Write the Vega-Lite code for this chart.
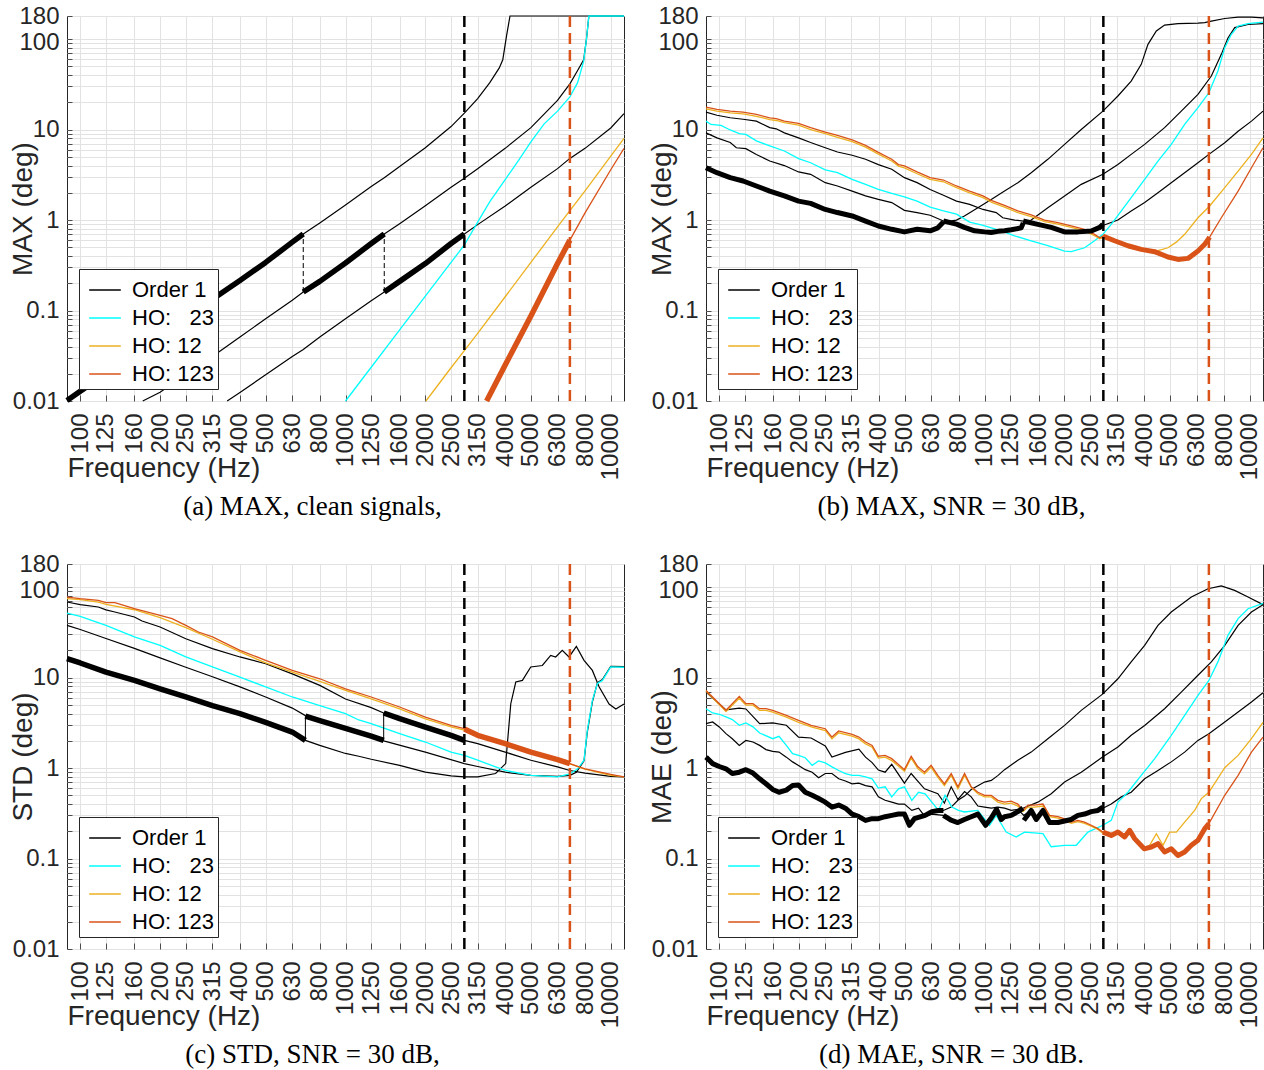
{
"$schema": "https://vega.github.io/schema/vega-lite/v6.json",
"background": "white",
"padding": {"left": 8, "top": 3, "right": 0, "bottom": 0},
"config": {
 "view": {"stroke": "#262626", "strokeWidth": 1},
 "font": "Liberation Sans",
 "title": {"font": "Liberation Serif", "fontSize": 27, "fontWeight": "normal", "color": "#000000"},
 "axis": {"labelFont": "Liberation Sans", "titleFont": "Liberation Sans", "labelColor": "#262626", "titleColor": "#262626", "labelFontSize": 24, "titleFontSize": 28, "titleFontWeight": "normal", "gridColor": "#e2e2e2", "gridWidth": 1, "domain": false, "tickColor": "#262626", "tickWidth": 0.8, "labelOverlap": false, "labelFlush": false},
 "axisX": {"labelAngle": -90, "tickSize": -6, "labelPadding": 18, "titleAnchor": "start", "titleAlign": "left", "titleX": 0, "titleY": 75, "titleBaseline": "alphabetic"},
 "axisY": {"tickSize": -5, "labelPadding": 13, "titleX": -36, "titleY": 192.5, "titleAlign": "center", "titleBaseline": "alphabetic", "titleAngle": 270, "labelOffset": {"condition": {"test": "datum.value == 100", "value": 3}, "value": 0}},
 "legend": {"orient": "bottom-left", "offset": 12, "symbolType": "stroke", "symbolSize": 1000, "symbolStrokeWidth": 1.5, "symbolOffset": 5, "labelFontSize": 22, "labelFont": "Liberation Sans", "labelColor": "#000000", "strokeColor": "#262626", "fillColor": "white", "padding": 4, "rowPadding": -4, "labelOffset": 10, "labelLimit": 300}
},
"datasets": {
 "vl": [{"f": 2806, "v": 0.01, "v2": 180, "s": "Order 1"}, {"f": 7014, "v": 0.01, "v2": 180, "s": "HO: 123"}],
 "aA": [{"f":89.13,"v":0.0101},{"f":100,"v":0.0128},{"f":125,"v":0.02},{"f":160,"v":0.033},{"f":200,"v":0.052},{"f":250,"v":0.083},{"f":315,"v":0.133},{"f":400,"v":0.215},{"f":500,"v":0.34},{"f":630,"v":0.57},{"f":693,"v":0.7},{"f":800,"v":0.93},{"f":1000,"v":1.47},{"f":1250,"v":2.35},{"f":1400,"v":2.94},{"f":1600,"v":3.9},{"f":2000,"v":6.3},{"f":2500,"v":10.8},{"f":2806,"v":15.2},{"f":3150,"v":22},{"f":3500,"v":33},{"f":3800,"v":48},{"f":3917,"v":59},{"f":4050,"v":110},{"f":4170,"v":180},{"f":11220,"v":180}],
 "aB": [{"f":172,"v":0.01},{"f":200,"v":0.0125},{"f":250,"v":0.0197},{"f":315,"v":0.031},{"f":400,"v":0.051},{"f":500,"v":0.081},{"f":630,"v":0.13},{"f":693,"v":0.16},{"f":800,"v":0.21},{"f":1000,"v":0.335},{"f":1250,"v":0.55},{"f":1400,"v":0.7},{"f":1600,"v":0.91},{"f":2000,"v":1.44},{"f":2500,"v":2.3},{"f":2806,"v":2.9},{"f":3150,"v":3.7},{"f":4000,"v":6.2},{"f":5000,"v":10.5},{"f":6300,"v":21},{"f":7014,"v":32},{"f":7500,"v":45},{"f":7906,"v":59},{"f":8100,"v":100},{"f":8270,"v":180},{"f":11220,"v":180}],
 "aC": [{"f":358,"v":0.01},{"f":400,"v":0.0124},{"f":500,"v":0.0195},{"f":630,"v":0.031},{"f":693,"v":0.037},{"f":800,"v":0.051},{"f":1000,"v":0.081},{"f":1250,"v":0.128},{"f":1400,"v":0.16},{"f":1600,"v":0.21},{"f":2000,"v":0.33},{"f":2500,"v":0.55},{"f":2806,"v":0.7},{"f":3150,"v":0.89},{"f":4000,"v":1.43},{"f":5000,"v":2.3},{"f":6300,"v":3.7},{"f":7014,"v":4.8},{"f":8000,"v":6.2},{"f":10000,"v":10.4},{"f":11220,"v":15}],
 "aH23": [{"f":1000,"v":0.01},{"f":1250,"v":0.0236},{"f":1600,"v":0.061},{"f":2000,"v":0.144},{"f":2500,"v":0.34},{"f":2806,"v":0.53},{"f":3150,"v":0.95},{"f":3500,"v":1.6},{"f":4000,"v":2.8},{"f":4500,"v":4.6},{"f":5000,"v":7.3},{"f":5600,"v":11.5},{"f":6300,"v":16},{"f":7014,"v":23},{"f":7500,"v":33},{"f":7906,"v":57},{"f":8100,"v":100},{"f":8270,"v":180},{"f":11220,"v":180}],
 "aH12": [{"f":2010,"v":0.01},{"f":2500,"v":0.0233},{"f":2806,"v":0.036},{"f":3150,"v":0.056},{"f":4000,"v":0.142},{"f":5000,"v":0.34},{"f":6300,"v":0.84},{"f":7014,"v":1.27},{"f":8000,"v":2.1},{"f":10000,"v":5.1},{"f":11220,"v":8.0}],
 "aH123": [{"f":3404,"v":0.01},{"f":4000,"v":0.025},{"f":5000,"v":0.087},{"f":6300,"v":0.33},{"f":7014,"v":0.6},{"f":8000,"v":1.2},{"f":10000,"v":3.6},{"f":11220,"v":6.2}],
 "aT1": [{"f":89.13,"v":0.0101},{"f":100,"v":0.0128},{"f":125,"v":0.02},{"f":160,"v":0.033},{"f":200,"v":0.052},{"f":250,"v":0.083},{"f":315,"v":0.133},{"f":400,"v":0.215},{"f":500,"v":0.34},{"f":630,"v":0.57},{"f":693,"v":0.7}],
 "aT2": [{"f":693,"v":0.16},{"f":800,"v":0.21},{"f":1000,"v":0.335},{"f":1250,"v":0.55},{"f":1400,"v":0.7}],
 "aT3": [{"f":1400,"v":0.16},{"f":1600,"v":0.21},{"f":2000,"v":0.33},{"f":2500,"v":0.55},{"f":2806,"v":0.7}],
 "aTr": [{"f":3404,"v":0.01},{"f":4000,"v":0.025},{"f":5000,"v":0.087},{"f":6300,"v":0.33},{"f":7014,"v":0.6}],
 "aConn": [{"f":693,"v":0.16,"v2":0.7},{"f":1400,"v":0.16,"v2":0.7}],
 "bA": [{"f":89.13,"v":3.79},{"f":98,"v":3.34},{"f":110,"v":2.94},{"f":123,"v":2.7},{"f":138,"v":2.38},{"f":155,"v":2.09},{"f":176,"v":1.85},{"f":199,"v":1.62},{"f":221,"v":1.53},{"f":251,"v":1.31},{"f":279,"v":1.21},{"f":317,"v":1.11},{"f":356,"v":0.975},{"f":398,"v":0.86},{"f":447,"v":0.79},{"f":499,"v":0.74},{"f":557,"v":0.79},{"f":624,"v":0.76},{"f":667,"v":0.82},{"f":700,"v":0.95},{"f":784,"v":1.0},{"f":840,"v":1.11},{"f":944,"v":1.37},{"f":1060,"v":1.69},{"f":1190,"v":2.09},{"f":1336,"v":2.59},{"f":1500,"v":3.34},{"f":1733,"v":4.69},{"f":2004,"v":6.86},{"f":2316,"v":10.0},{"f":2795,"v":16.0},{"f":3184,"v":23.5},{"f":3573,"v":34.4},{"f":3899,"v":52.6},{"f":4133,"v":87.5},{"f":4445,"v":123},{"f":4775,"v":143},{"f":5363,"v":148},{"f":6380,"v":150},{"f":6764,"v":152},{"f":7165,"v":158},{"f":8050,"v":169},{"f":9040,"v":175},{"f":10150,"v":175},{"f":11220,"v":172}],
 "bB": [{"f":89.13,"v":9.2},{"f":98,"v":8.1},{"f":110,"v":7.2},{"f":116,"v":6.3},{"f":126,"v":6.15},{"f":138,"v":5.3},{"f":155,"v":4.5},{"f":176,"v":4.0},{"f":199,"v":3.4},{"f":221,"v":3.2},{"f":251,"v":2.59},{"f":279,"v":2.38},{"f":317,"v":2.09},{"f":356,"v":1.85},{"f":398,"v":1.69},{"f":447,"v":1.56},{"f":499,"v":1.28},{"f":557,"v":1.21},{"f":624,"v":1.13},{"f":700,"v":0.975},{"f":784,"v":0.9},{"f":840,"v":0.83},{"f":917,"v":0.76},{"f":1000,"v":0.74},{"f":1060,"v":0.73},{"f":1123,"v":0.75},{"f":1190,"v":0.76},{"f":1261,"v":0.78},{"f":1375,"v":0.82},{"f":1400,"v":0.93},{"f":1500,"v":1.0},{"f":1733,"v":1.37},{"f":2004,"v":1.84},{"f":2316,"v":2.48},{"f":2795,"v":3.2},{"f":3184,"v":4.12},{"f":3573,"v":5.32},{"f":4016,"v":6.86},{"f":4775,"v":10.5},{"f":5520,"v":16.0},{"f":6380,"v":24.5},{"f":7165,"v":39.1},{"f":7813,"v":67.8},{"f":8277,"v":103},{"f":8777,"v":134},{"f":9854,"v":145},{"f":11220,"v":148}],
 "bC": [{"f":89.13,"v":15.6},{"f":98,"v":14.4},{"f":110,"v":13.5},{"f":123,"v":13.0},{"f":138,"v":12.4},{"f":155,"v":10.5},{"f":164,"v":10.2},{"f":176,"v":9.2},{"f":199,"v":8.1},{"f":221,"v":7.2},{"f":251,"v":6.3},{"f":279,"v":5.65},{"f":317,"v":5.2},{"f":356,"v":4.7},{"f":398,"v":4.1},{"f":447,"v":3.64},{"f":499,"v":2.94},{"f":557,"v":2.59},{"f":624,"v":2.18},{"f":700,"v":1.88},{"f":784,"v":1.62},{"f":879,"v":1.49},{"f":987,"v":1.31},{"f":1107,"v":1.21},{"f":1172,"v":1.06},{"f":1300,"v":1.0},{"f":1400,"v":0.975},{"f":1589,"v":0.896},{"f":1785,"v":0.83},{"f":2004,"v":0.74},{"f":2249,"v":0.74},{"f":2526,"v":0.757},{"f":2720,"v":0.83},{"f":2795,"v":0.87},{"f":3184,"v":1.0},{"f":3573,"v":1.26},{"f":4016,"v":1.56},{"f":4508,"v":2.0},{"f":5060,"v":2.59},{"f":5683,"v":3.34},{"f":6380,"v":4.3},{"f":7015,"v":5.32},{"f":8050,"v":7.16},{"f":9040,"v":9.6},{"f":10150,"v":12.4},{"f":11220,"v":16.0}],
 "bH23": [{"f":89.13,"v":12.4},{"f":93,"v":11.4},{"f":101.5,"v":11.1},{"f":110,"v":9.9},{"f":119,"v":9.0},{"f":126,"v":8.85},{"f":138,"v":7.5},{"f":155,"v":6.6},{"f":176,"v":5.8},{"f":199,"v":4.77},{"f":221,"v":4.3},{"f":251,"v":3.58},{"f":279,"v":3.34},{"f":317,"v":2.82},{"f":356,"v":2.48},{"f":398,"v":2.18},{"f":447,"v":1.97},{"f":499,"v":1.8},{"f":557,"v":1.62},{"f":624,"v":1.39},{"f":700,"v":1.26},{"f":784,"v":1.16},{"f":879,"v":0.95},{"f":980,"v":0.88},{"f":1107,"v":0.79},{"f":1200,"v":0.73},{"f":1298,"v":0.67},{"f":1500,"v":0.59},{"f":1733,"v":0.52},{"f":2004,"v":0.454},{"f":2123,"v":0.447},{"f":2384,"v":0.494},{"f":2600,"v":0.59},{"f":2795,"v":0.695},{"f":3005,"v":0.896},{"f":3280,"v":1.26},{"f":3573,"v":1.77},{"f":4016,"v":2.82},{"f":4508,"v":4.49},{"f":5060,"v":6.86},{"f":5683,"v":11.4},{"f":6380,"v":17.5},{"f":7015,"v":25.5},{"f":7586,"v":44.4},{"f":8050,"v":80.4},{"f":8525,"v":113},{"f":9040,"v":139},{"f":9854,"v":148},{"f":11220,"v":154}],
 "bH12": [{"f":89.13,"v":16.9},{"f":98,"v":16.0},{"f":110,"v":15.3},{"f":123,"v":14.9},{"f":138,"v":14.0},{"f":155,"v":12.9},{"f":164,"v":12.6},{"f":176,"v":11.9},{"f":199,"v":11.2},{"f":221,"v":10.0},{"f":251,"v":9.0},{"f":279,"v":8.2},{"f":317,"v":7.35},{"f":356,"v":6.4},{"f":398,"v":5.35},{"f":447,"v":4.5},{"f":474,"v":3.95},{"f":499,"v":3.78},{"f":557,"v":3.25},{"f":624,"v":2.82},{"f":700,"v":2.65},{"f":784,"v":2.28},{"f":879,"v":2.0},{"f":987,"v":1.77},{"f":1060,"v":1.58},{"f":1190,"v":1.39},{"f":1336,"v":1.21},{"f":1500,"v":1.09},{"f":1684,"v":0.96},{"f":1891,"v":0.9},{"f":2123,"v":0.83},{"f":2384,"v":0.76},{"f":2600,"v":0.67},{"f":2720,"v":0.62},{"f":2795,"v":0.64},{"f":3094,"v":0.57},{"f":3474,"v":0.5},{"f":3899,"v":0.46},{"f":4380,"v":0.44},{"f":4508,"v":0.46},{"f":4918,"v":0.494},{"f":5288,"v":0.57},{"f":5683,"v":0.695},{"f":6380,"v":1.06},{"f":7060,"v":1.43},{"f":8050,"v":2.28},{"f":9040,"v":3.48},{"f":10150,"v":5.32},{"f":11220,"v":8.1}],
 "bH123": [{"f":89.13,"v":17.7},{"f":98,"v":16.7},{"f":110,"v":16.0},{"f":123,"v":15.6},{"f":138,"v":14.7},{"f":155,"v":13.5},{"f":164,"v":13.2},{"f":176,"v":12.4},{"f":199,"v":11.7},{"f":221,"v":10.5},{"f":251,"v":9.4},{"f":279,"v":8.6},{"f":317,"v":7.7},{"f":356,"v":6.7},{"f":398,"v":5.6},{"f":447,"v":4.7},{"f":474,"v":4.1},{"f":499,"v":3.96},{"f":557,"v":3.4},{"f":624,"v":2.94},{"f":700,"v":2.77},{"f":784,"v":2.38},{"f":879,"v":2.09},{"f":987,"v":1.85},{"f":1060,"v":1.65},{"f":1190,"v":1.45},{"f":1336,"v":1.26},{"f":1500,"v":1.14},{"f":1684,"v":1.0},{"f":1891,"v":0.935},{"f":2123,"v":0.86},{"f":2384,"v":0.79},{"f":2600,"v":0.695},{"f":2720,"v":0.638},{"f":2795,"v":0.665},{"f":3094,"v":0.59},{"f":3474,"v":0.52},{"f":3899,"v":0.474},{"f":4380,"v":0.447},{"f":4918,"v":0.39},{"f":5363,"v":0.367},{"f":5852,"v":0.377},{"f":6380,"v":0.454},{"f":6764,"v":0.539},{"f":7060,"v":0.649},{"f":7813,"v":1.06},{"f":9040,"v":2.09},{"f":10150,"v":3.78},{"f":11220,"v":6.3}],
 "bT1": [{"f":89.13,"v":3.79},{"f":98,"v":3.34},{"f":110,"v":2.94},{"f":123,"v":2.7},{"f":138,"v":2.38},{"f":155,"v":2.09},{"f":176,"v":1.85},{"f":199,"v":1.62},{"f":221,"v":1.53},{"f":251,"v":1.31},{"f":279,"v":1.21},{"f":317,"v":1.11},{"f":356,"v":0.975},{"f":398,"v":0.86},{"f":447,"v":0.79},{"f":499,"v":0.74},{"f":557,"v":0.79},{"f":624,"v":0.76},{"f":667,"v":0.82},{"f":700,"v":0.95}],
 "bT2": [{"f":700,"v":0.975},{"f":784,"v":0.9},{"f":840,"v":0.83},{"f":917,"v":0.76},{"f":1000,"v":0.74},{"f":1060,"v":0.73},{"f":1123,"v":0.75},{"f":1190,"v":0.76},{"f":1261,"v":0.78},{"f":1375,"v":0.82},{"f":1400,"v":0.93}],
 "bT3": [{"f":1400,"v":0.975},{"f":1589,"v":0.896},{"f":1785,"v":0.83},{"f":2004,"v":0.74},{"f":2249,"v":0.74},{"f":2526,"v":0.757},{"f":2720,"v":0.83},{"f":2795,"v":0.896}],
 "bTr": [{"f":2795,"v":0.665},{"f":3094,"v":0.59},{"f":3474,"v":0.52},{"f":3899,"v":0.474},{"f":4380,"v":0.447},{"f":4918,"v":0.39},{"f":5363,"v":0.367},{"f":5852,"v":0.377},{"f":6380,"v":0.454},{"f":6764,"v":0.539},{"f":7060,"v":0.649}],
 "cA": [{"f":89.13,"v":16.2},{"f":100,"v":14.5},{"f":125,"v":11.5},{"f":160,"v":9.3},{"f":200,"v":7.5},{"f":250,"v":6.1},{"f":315,"v":4.9},{"f":400,"v":4.0},{"f":500,"v":3.2},{"f":630,"v":2.5},{"f":706,"v":2.02},{"f":800,"v":1.78},{"f":1000,"v":1.45},{"f":1122,"v":1.35},{"f":1250,"v":1.25},{"f":1600,"v":1.07},{"f":2000,"v":0.9},{"f":2500,"v":0.82},{"f":2806,"v":0.8},{"f":3150,"v":0.8},{"f":3680,"v":0.87},{"f":4017,"v":1.12},{"f":4199,"v":5.14},{"f":4385,"v":8.93},{"f":4645,"v":9.3},{"f":4994,"v":13.1},{"f":5523,"v":13.6},{"f":5937,"v":17.6},{"f":6200,"v":16.9},{"f":6566,"v":20.0},{"f":6961,"v":16.9},{"f":7420,"v":22.1},{"f":7930,"v":15.5},{"f":8526,"v":12.0},{"f":9036,"v":7.9},{"f":9856,"v":5.1},{"f":10450,"v":4.5},{"f":11220,"v":5.1}],
 "cB": [{"f":89.13,"v":37.8},{"f":100,"v":34},{"f":125,"v":27},{"f":160,"v":21},{"f":200,"v":16.5},{"f":250,"v":13},{"f":315,"v":10.2},{"f":400,"v":7.9},{"f":500,"v":6.1},{"f":630,"v":4.6},{"f":706,"v":3.8},{"f":800,"v":3.35},{"f":1000,"v":2.75},{"f":1250,"v":2.25},{"f":1393,"v":2.0},{"f":2000,"v":1.5},{"f":2806,"v":1.12},{"f":3150,"v":1.04},{"f":4000,"v":0.9},{"f":5000,"v":0.83},{"f":6300,"v":0.81},{"f":7014,"v":0.83},{"f":7420,"v":0.9},{"f":7930,"v":1.2},{"f":8160,"v":2.5},{"f":8526,"v":5.4},{"f":8910,"v":8.8},{"f":9300,"v":9.5},{"f":10000,"v":13.3},{"f":11220,"v":13.2}],
 "cC": [{"f":89.13,"v":68.4},{"f":100,"v":64.0},{"f":117,"v":60.3},{"f":125,"v":56},{"f":135,"v":53.1},{"f":160,"v":46.7},{"f":171,"v":42.2},{"f":200,"v":36.2},{"f":250,"v":26.9},{"f":315,"v":20.9},{"f":400,"v":16.9},{"f":500,"v":14.2},{"f":630,"v":11.0},{"f":800,"v":8.2},{"f":1000,"v":5.8},{"f":1250,"v":4.65},{"f":1393,"v":4.06},{"f":1600,"v":3.51},{"f":2000,"v":2.84},{"f":2500,"v":2.3},{"f":2806,"v":2.02},{"f":3150,"v":1.86},{"f":4000,"v":1.5},{"f":5000,"v":1.22},{"f":6300,"v":1.03},{"f":7014,"v":0.94},{"f":8000,"v":0.88},{"f":10000,"v":0.81},{"f":11220,"v":0.8}],
 "cH23": [{"f":89.13,"v":51.7},{"f":100,"v":47.5},{"f":125,"v":37.8},{"f":160,"v":28.1},{"f":200,"v":22.7},{"f":250,"v":16.9},{"f":315,"v":13.1},{"f":400,"v":10.1},{"f":500,"v":7.9},{"f":630,"v":6.1},{"f":800,"v":4.9},{"f":1000,"v":4.0},{"f":1122,"v":3.4},{"f":1250,"v":3.09},{"f":1600,"v":2.4},{"f":2000,"v":1.94},{"f":2500,"v":1.5},{"f":2806,"v":1.38},{"f":3150,"v":1.22},{"f":4000,"v":0.94},{"f":5000,"v":0.83},{"f":6300,"v":0.8},{"f":7014,"v":0.86},{"f":7500,"v":0.98},{"f":7930,"v":1.22},{"f":8160,"v":2.61},{"f":8526,"v":5.6},{"f":8910,"v":8.6},{"f":9300,"v":9.3},{"f":10000,"v":13.1},{"f":11220,"v":13.0}],
 "cH12": [{"f":89.13,"v":74.5},{"f":100,"v":72.7},{"f":117,"v":68.4},{"f":125,"v":64.5},{"f":160,"v":56.2},{"f":200,"v":45.9},{"f":250,"v":35.6},{"f":315,"v":26.5},{"f":400,"v":19.2},{"f":500,"v":14.5},{"f":630,"v":11.5},{"f":800,"v":9.1},{"f":1000,"v":7.2},{"f":1250,"v":5.8},{"f":1600,"v":4.5},{"f":2000,"v":3.5},{"f":2500,"v":2.85},{"f":2806,"v":2.62},{"f":3150,"v":2.25},{"f":4000,"v":1.82},{"f":5000,"v":1.47},{"f":6300,"v":1.22},{"f":7014,"v":1.11},{"f":8000,"v":0.97},{"f":10000,"v":0.83},{"f":11220,"v":0.8}],
 "cH123": [{"f":89.13,"v":77.6},{"f":100,"v":74.5},{"f":117,"v":71.4},{"f":125,"v":67.3},{"f":135,"v":67.3},{"f":160,"v":57.7},{"f":200,"v":48.7},{"f":222,"v":44.8},{"f":250,"v":37.8},{"f":279,"v":31.9},{"f":315,"v":28.1},{"f":400,"v":20.0},{"f":500,"v":15.5},{"f":630,"v":12.0},{"f":800,"v":9.7},{"f":1000,"v":7.5},{"f":1250,"v":6.1},{"f":1600,"v":4.73},{"f":2000,"v":3.66},{"f":2500,"v":2.96},{"f":2806,"v":2.72},{"f":3150,"v":2.3},{"f":4000,"v":1.86},{"f":5000,"v":1.5},{"f":6300,"v":1.24},{"f":7014,"v":1.12},{"f":8000,"v":0.98},{"f":10000,"v":0.85},{"f":11220,"v":0.8}],
 "cT1": [{"f":89.13,"v":16.2},{"f":100,"v":14.5},{"f":125,"v":11.5},{"f":160,"v":9.3},{"f":200,"v":7.5},{"f":250,"v":6.1},{"f":315,"v":4.9},{"f":400,"v":4.0},{"f":500,"v":3.2},{"f":630,"v":2.5},{"f":706,"v":2.02}],
 "cT2": [{"f":706,"v":3.75},{"f":800,"v":3.35},{"f":1000,"v":2.75},{"f":1250,"v":2.25},{"f":1393,"v":2.02}],
 "cT3": [{"f":1393,"v":4.06},{"f":1600,"v":3.51},{"f":2000,"v":2.84},{"f":2500,"v":2.3},{"f":2806,"v":2.02}],
 "cTr": [{"f":2806,"v":2.7},{"f":3150,"v":2.3},{"f":4000,"v":1.86},{"f":5000,"v":1.5},{"f":6300,"v":1.24},{"f":7014,"v":1.12}],
 "cConn": [{"f":706,"v":2.02,"v2":3.75},{"f":1393,"v":2.02,"v2":4.06}],
 "dA": [{"f":89.13,"v":1.32},{"f":94.4,"v":1.12},{"f":100,"v":1.04},{"f":106,"v":0.98},{"f":112,"v":0.87},{"f":119,"v":0.9},{"f":126,"v":0.96},{"f":134,"v":0.88},{"f":142,"v":0.76},{"f":150,"v":0.67},{"f":159,"v":0.58},{"f":168,"v":0.54},{"f":179,"v":0.57},{"f":189,"v":0.64},{"f":199,"v":0.65},{"f":211,"v":0.54},{"f":224,"v":0.5},{"f":237,"v":0.46},{"f":251,"v":0.42},{"f":266,"v":0.37},{"f":282,"v":0.39},{"f":299,"v":0.36},{"f":317,"v":0.31},{"f":336,"v":0.29},{"f":356,"v":0.264},{"f":377,"v":0.276},{"f":398,"v":0.276},{"f":422,"v":0.29},{"f":447,"v":0.3},{"f":474,"v":0.31},{"f":499,"v":0.31},{"f":521,"v":0.233},{"f":544,"v":0.276},{"f":597,"v":0.3},{"f":633,"v":0.33},{"f":671,"v":0.34},{"f":700,"v":0.34},{"f":749,"v":0.37},{"f":794,"v":0.44},{"f":841,"v":0.49},{"f":891,"v":0.58},{"f":1000,"v":0.7},{"f":1061,"v":0.73},{"f":1125,"v":0.83},{"f":1190,"v":0.96},{"f":1336,"v":1.22},{"f":1500,"v":1.5},{"f":1733,"v":2.11},{"f":2004,"v":2.96},{"f":2316,"v":4.34},{"f":2795,"v":6.6},{"f":3184,"v":9.7},{"f":3573,"v":14.9},{"f":4016,"v":22.7},{"f":4508,"v":37.8},{"f":5060,"v":53},{"f":6023,"v":77.6},{"f":6963,"v":96},{"f":7813,"v":103},{"f":8770,"v":92},{"f":9854,"v":77.6},{"f":11220,"v":64}],
 "dB": [{"f":89.13,"v":3.1},{"f":94.4,"v":3.23},{"f":100,"v":2.85},{"f":106,"v":2.4},{"f":112,"v":2.11},{"f":119,"v":1.78},{"f":126,"v":2.02},{"f":134,"v":1.94},{"f":142,"v":1.78},{"f":150,"v":1.6},{"f":159,"v":1.53},{"f":168,"v":1.5},{"f":179,"v":1.32},{"f":189,"v":1.17},{"f":199,"v":1.07},{"f":211,"v":0.96},{"f":224,"v":0.9},{"f":237,"v":0.78},{"f":251,"v":0.87},{"f":266,"v":0.87},{"f":282,"v":0.76},{"f":299,"v":0.72},{"f":317,"v":0.67},{"f":336,"v":0.68},{"f":356,"v":0.64},{"f":377,"v":0.62},{"f":398,"v":0.48},{"f":422,"v":0.44},{"f":447,"v":0.42},{"f":474,"v":0.4},{"f":499,"v":0.4},{"f":532,"v":0.34},{"f":564,"v":0.36},{"f":597,"v":0.29},{"f":633,"v":0.31},{"f":700,"v":0.3},{"f":748,"v":0.265},{"f":793,"v":0.25},{"f":840,"v":0.27},{"f":891,"v":0.29},{"f":944,"v":0.31},{"f":1010,"v":0.233},{"f":1060,"v":0.28},{"f":1110,"v":0.35},{"f":1156,"v":0.27},{"f":1190,"v":0.29},{"f":1261,"v":0.3},{"f":1336,"v":0.33},{"f":1396,"v":0.36},{"f":1589,"v":0.42},{"f":1785,"v":0.52},{"f":2004,"v":0.7},{"f":2316,"v":0.9},{"f":2795,"v":1.33},{"f":3184,"v":1.71},{"f":3573,"v":2.3},{"f":4016,"v":2.96},{"f":4775,"v":4.53},{"f":5520,"v":6.9},{"f":6380,"v":10.6},{"f":7165,"v":14.9},{"f":8050,"v":22.7},{"f":9040,"v":37.8},{"f":10150,"v":53},{"f":11220,"v":64}],
 "dC": [{"f":89.13,"v":6.9},{"f":106,"v":4.4},{"f":119,"v":4.6},{"f":126,"v":4.5},{"f":142,"v":3.09},{"f":159,"v":3.15},{"f":179,"v":2.97},{"f":199,"v":2.2},{"f":222,"v":2.15},{"f":251,"v":1.75},{"f":266,"v":1.32},{"f":299,"v":1.49},{"f":336,"v":1.62},{"f":356,"v":1.32},{"f":377,"v":1.15},{"f":398,"v":0.95},{"f":422,"v":0.9},{"f":447,"v":1.1},{"f":499,"v":0.68},{"f":529,"v":0.87},{"f":594,"v":0.59},{"f":667,"v":0.52},{"f":706,"v":0.41},{"f":749,"v":0.62},{"f":794,"v":0.45},{"f":841,"v":0.55},{"f":891,"v":0.48},{"f":944,"v":0.38},{"f":1000,"v":0.37},{"f":1061,"v":0.36},{"f":1123,"v":0.37},{"f":1190,"v":0.36},{"f":1261,"v":0.34},{"f":1336,"v":0.35},{"f":1407,"v":0.3},{"f":1500,"v":0.34},{"f":1567,"v":0.27},{"f":1661,"v":0.34},{"f":1759,"v":0.25},{"f":1891,"v":0.25},{"f":2004,"v":0.26},{"f":2123,"v":0.27},{"f":2249,"v":0.3},{"f":2384,"v":0.31},{"f":2526,"v":0.33},{"f":2677,"v":0.34},{"f":2795,"v":0.36},{"f":3005,"v":0.4},{"f":3280,"v":0.48},{"f":3573,"v":0.54},{"f":4016,"v":0.76},{"f":4508,"v":0.94},{"f":5060,"v":1.17},{"f":5683,"v":1.5},{"f":6380,"v":2.02},{"f":7015,"v":2.4},{"f":8050,"v":3.23},{"f":9040,"v":4.16},{"f":10150,"v":5.37},{"f":11220,"v":6.8}],
 "dH23": [{"f":89.13,"v":4.53},{"f":94.4,"v":4.06},{"f":100,"v":3.93},{"f":106,"v":3.67},{"f":112,"v":3.43},{"f":119,"v":2.97},{"f":126,"v":3.15},{"f":134,"v":2.85},{"f":142,"v":2.44},{"f":159,"v":2.11},{"f":168,"v":2.24},{"f":179,"v":1.78},{"f":189,"v":1.44},{"f":199,"v":1.38},{"f":211,"v":1.3},{"f":224,"v":1.07},{"f":237,"v":1.2},{"f":251,"v":1.14},{"f":266,"v":1.03},{"f":282,"v":0.94},{"f":299,"v":0.87},{"f":317,"v":0.83},{"f":336,"v":0.83},{"f":356,"v":0.8},{"f":377,"v":0.76},{"f":398,"v":0.6},{"f":422,"v":0.62},{"f":447,"v":0.48},{"f":474,"v":0.59},{"f":499,"v":0.62},{"f":532,"v":0.44},{"f":564,"v":0.54},{"f":597,"v":0.52},{"f":633,"v":0.42},{"f":671,"v":0.34},{"f":710,"v":0.5},{"f":753,"v":0.37},{"f":798,"v":0.34},{"f":840,"v":0.327},{"f":944,"v":0.34},{"f":1044,"v":0.233},{"f":1107,"v":0.3},{"f":1207,"v":0.196},{"f":1317,"v":0.173},{"f":1416,"v":0.196},{"f":1661,"v":0.188},{"f":1785,"v":0.135},{"f":2004,"v":0.14},{"f":2218,"v":0.14},{"f":2454,"v":0.196},{"f":2795,"v":0.233},{"f":3005,"v":0.264},{"f":3184,"v":0.42},{"f":3473,"v":0.54},{"f":3899,"v":0.83},{"f":4383,"v":1.27},{"f":5060,"v":2.3},{"f":5683,"v":3.82},{"f":6380,"v":6.36},{"f":7015,"v":9.3},{"f":7586,"v":14.9},{"f":8277,"v":29.3},{"f":9040,"v":44.8},{"f":9854,"v":57.7},{"f":11220,"v":66}],
 "dH12": [{"f":89.13,"v":7.1},{"f":106,"v":4.2},{"f":119,"v":5.9},{"f":126,"v":4.95},{"f":134,"v":4.95},{"f":142,"v":4.35},{"f":150,"v":4.35},{"f":159,"v":4.15},{"f":179,"v":3.65},{"f":199,"v":3.2},{"f":222,"v":2.85},{"f":251,"v":2.6},{"f":266,"v":2.1},{"f":282,"v":2.45},{"f":317,"v":2.25},{"f":336,"v":2.1},{"f":356,"v":1.85},{"f":377,"v":1.7},{"f":398,"v":1.29},{"f":422,"v":1.32},{"f":447,"v":1.21},{"f":499,"v":0.92},{"f":529,"v":1.29},{"f":560,"v":0.99},{"f":594,"v":0.86},{"f":629,"v":1.02},{"f":667,"v":0.79},{"f":706,"v":0.64},{"f":749,"v":0.83},{"f":794,"v":0.59},{"f":841,"v":0.83},{"f":891,"v":0.61},{"f":944,"v":0.52},{"f":1000,"v":0.48},{"f":1060,"v":0.48},{"f":1123,"v":0.42},{"f":1190,"v":0.4},{"f":1261,"v":0.41},{"f":1336,"v":0.38},{"f":1396,"v":0.33},{"f":1457,"v":0.37},{"f":1544,"v":0.37},{"f":1661,"v":0.38},{"f":1759,"v":0.29},{"f":1891,"v":0.28},{"f":2004,"v":0.265},{"f":2123,"v":0.245},{"f":2249,"v":0.255},{"f":2384,"v":0.245},{"f":2526,"v":0.228},{"f":2677,"v":0.21},{"f":2795,"v":0.19},{"f":3005,"v":0.175},{"f":3184,"v":0.19},{"f":3375,"v":0.17},{"f":3525,"v":0.2},{"f":3681,"v":0.165},{"f":4000,"v":0.13},{"f":4194,"v":0.14},{"f":4445,"v":0.188},{"f":4710,"v":0.14},{"f":4992,"v":0.196},{"f":5288,"v":0.196},{"f":5683,"v":0.253},{"f":6200,"v":0.34},{"f":6570,"v":0.46},{"f":7015,"v":0.54},{"f":8050,"v":1.01},{"f":9040,"v":1.38},{"f":10150,"v":2.11},{"f":11220,"v":3.2}],
 "dH123": [{"f":89.13,"v":7.2},{"f":106,"v":4.35},{"f":119,"v":6.2},{"f":126,"v":5.15},{"f":134,"v":5.15},{"f":142,"v":4.53},{"f":150,"v":4.53},{"f":159,"v":4.35},{"f":179,"v":3.83},{"f":199,"v":3.37},{"f":222,"v":2.97},{"f":251,"v":2.72},{"f":266,"v":2.2},{"f":282,"v":2.57},{"f":317,"v":2.36},{"f":336,"v":2.2},{"f":356,"v":1.94},{"f":377,"v":1.78},{"f":398,"v":1.35},{"f":422,"v":1.38},{"f":447,"v":1.27},{"f":499,"v":0.96},{"f":529,"v":1.35},{"f":560,"v":1.04},{"f":594,"v":0.9},{"f":629,"v":1.07},{"f":667,"v":0.83},{"f":706,"v":0.67},{"f":749,"v":0.87},{"f":794,"v":0.62},{"f":841,"v":0.87},{"f":891,"v":0.62},{"f":944,"v":0.54},{"f":1000,"v":0.5},{"f":1060,"v":0.5},{"f":1123,"v":0.44},{"f":1190,"v":0.42},{"f":1261,"v":0.43},{"f":1336,"v":0.4},{"f":1396,"v":0.34},{"f":1457,"v":0.39},{"f":1544,"v":0.39},{"f":1661,"v":0.4},{"f":1759,"v":0.3},{"f":1891,"v":0.29},{"f":2004,"v":0.275},{"f":2123,"v":0.253},{"f":2249,"v":0.264},{"f":2384,"v":0.253},{"f":2526,"v":0.233},{"f":2677,"v":0.214},{"f":2795,"v":0.196},{"f":3005,"v":0.18},{"f":3184,"v":0.196},{"f":3375,"v":0.173},{"f":3525,"v":0.205},{"f":3681,"v":0.166},{"f":4000,"v":0.128},{"f":4256,"v":0.134},{"f":4508,"v":0.146},{"f":4775,"v":0.118},{"f":5060,"v":0.128},{"f":5363,"v":0.108},{"f":5683,"v":0.118},{"f":6023,"v":0.14},{"f":6380,"v":0.159},{"f":6764,"v":0.214},{"f":7015,"v":0.243},{"f":8050,"v":0.5},{"f":9040,"v":0.83},{"f":10150,"v":1.5},{"f":11220,"v":2.2}],
 "dT1": [{"f":89.13,"v":1.32},{"f":94.4,"v":1.12},{"f":100,"v":1.04},{"f":106,"v":0.98},{"f":112,"v":0.87},{"f":119,"v":0.9},{"f":126,"v":0.96},{"f":134,"v":0.88},{"f":142,"v":0.76},{"f":150,"v":0.67},{"f":159,"v":0.58},{"f":168,"v":0.54},{"f":179,"v":0.57},{"f":189,"v":0.64},{"f":199,"v":0.65},{"f":211,"v":0.54},{"f":224,"v":0.5},{"f":237,"v":0.46},{"f":251,"v":0.42},{"f":266,"v":0.37},{"f":282,"v":0.39},{"f":299,"v":0.36},{"f":317,"v":0.31},{"f":336,"v":0.29},{"f":356,"v":0.264},{"f":377,"v":0.276},{"f":398,"v":0.276},{"f":422,"v":0.29},{"f":447,"v":0.3},{"f":474,"v":0.31},{"f":499,"v":0.31},{"f":521,"v":0.233},{"f":544,"v":0.276},{"f":597,"v":0.3},{"f":633,"v":0.33},{"f":671,"v":0.34},{"f":700,"v":0.34}],
 "dT2": [{"f":700,"v":0.3},{"f":748,"v":0.265},{"f":793,"v":0.25},{"f":840,"v":0.27},{"f":891,"v":0.29},{"f":944,"v":0.31},{"f":1010,"v":0.233},{"f":1060,"v":0.28},{"f":1110,"v":0.35},{"f":1156,"v":0.27},{"f":1190,"v":0.29},{"f":1261,"v":0.3},{"f":1336,"v":0.33},{"f":1396,"v":0.36}],
 "dT3": [{"f":1407,"v":0.264},{"f":1500,"v":0.34},{"f":1567,"v":0.27},{"f":1661,"v":0.34},{"f":1759,"v":0.25},{"f":1891,"v":0.25},{"f":2004,"v":0.26},{"f":2123,"v":0.27},{"f":2249,"v":0.3},{"f":2384,"v":0.31},{"f":2526,"v":0.33},{"f":2677,"v":0.34},{"f":2795,"v":0.37}],
 "dTr": [{"f":2795,"v":0.196},{"f":3005,"v":0.18},{"f":3184,"v":0.196},{"f":3375,"v":0.173},{"f":3525,"v":0.205},{"f":3681,"v":0.166},{"f":4000,"v":0.128},{"f":4256,"v":0.134},{"f":4508,"v":0.146},{"f":4775,"v":0.118},{"f":5060,"v":0.128},{"f":5363,"v":0.108},{"f":5683,"v":0.118},{"f":6023,"v":0.14},{"f":6380,"v":0.159},{"f":6764,"v":0.214},{"f":7015,"v":0.243}]
},
"columns": 2,
"spacing": {"row": 30, "column": 19},
"resolve": {"scale": {"color": "independent", "x": "independent", "y": "independent"}, "legend": {"color": "independent"}},
"concat": [
 {
  "width": 557, "height": 385,
  "title": {"text": "(a) MAX, clean signals,", "orient": "bottom", "anchor": "middle", "frame": "group", "dx": -33, "offset": 12},
  "encoding": {
   "x": {"field": "f", "type": "quantitative", "scale": {"type": "log", "domain": [89.125, 11220], "nice": false}, "axis": {"title": "Frequency (Hz)", "values": [100,125,160,200,250,315,400,500,630,800,1000,1250,1600,2000,2500,3150,4000,5000,6300,8000,10000], "labelExpr": "format(datum.value, 'd')"}},
   "y": {"field": "v", "type": "quantitative", "scale": {"type": "log", "domain": [0.01, 180], "nice": false}, "axis": {"title": "MAX (deg)", "values": [0.01,0.02,0.03,0.04,0.05,0.06,0.07,0.08,0.09,0.1,0.2,0.3,0.4,0.5,0.6,0.7,0.8,0.9,1,2,3,4,5,6,7,8,9,10,20,30,40,50,60,70,80,90,100,180], "labelExpr": "indexof([0.01,0.1,1,10,100,180], datum.value) >= 0 ? format(datum.value, '~g') : ''"}}
  },
  "layer": [
   {"data": {"name": "aA"}, "mark": {"type": "line", "strokeWidth": 1.2}, "encoding": {"color": {"datum": "Order 1", "scale": {"domain": ["Order 1", "HO: 23", "HO: 12", "HO: 123"], "range": ["#000000", "#00ffff", "#edb120", "#d95319"]}, "legend": {"title": null, "labelExpr": "datum.label == 'HO: 23' ? 'HO:\u00a0\u00a0\u00a023' : datum.label"}}}},
   {"data": {"name": "aB"}, "mark": {"type": "line", "strokeWidth": 1.2}, "encoding": {"color": {"datum": "Order 1", "legend": null}}},
   {"data": {"name": "aC"}, "mark": {"type": "line", "strokeWidth": 1.2}, "encoding": {"color": {"datum": "Order 1", "legend": null}}},
   {"data": {"name": "aH23"}, "mark": {"type": "line", "strokeWidth": 1.3}, "encoding": {"color": {"datum": "HO: 23", "legend": null}}},
   {"data": {"name": "aH12"}, "mark": {"type": "line", "strokeWidth": 1.3}, "encoding": {"color": {"datum": "HO: 12", "legend": null}}},
   {"data": {"name": "aH123"}, "mark": {"type": "line", "strokeWidth": 1.3}, "encoding": {"color": {"datum": "HO: 123", "legend": null}}},
   {"data": {"name": "aT1"}, "mark": {"type": "line", "strokeWidth": 5.5, "strokeJoin": "round"}, "encoding": {"color": {"datum": "Order 1", "legend": null}}},
   {"data": {"name": "aT2"}, "mark": {"type": "line", "strokeWidth": 5.5, "strokeJoin": "round"}, "encoding": {"color": {"datum": "Order 1", "legend": null}}},
   {"data": {"name": "aT3"}, "mark": {"type": "line", "strokeWidth": 5.5, "strokeJoin": "round"}, "encoding": {"color": {"datum": "Order 1", "legend": null}}},
   {"data": {"name": "aTr"}, "mark": {"type": "line", "strokeWidth": 5.5, "strokeJoin": "round"}, "encoding": {"color": {"datum": "HO: 123", "legend": null}}},
   {"data": {"name": "aConn"}, "mark": {"type": "rule", "strokeWidth": 1, "strokeDash": [5, 3], "color": "#000000"}, "encoding": {"y2": {"field": "v2"}}},
   {"data": {"name": "vl"}, "mark": {"type": "rule", "strokeWidth": 2.5, "strokeDash": [11, 6]}, "encoding": {"y2": {"field": "v2"}, "color": {"field": "s", "type": "nominal", "legend": null}}}
  ]
 },
 {
  "width": 557, "height": 385,
  "title": {"text": "(b) MAX, SNR = 30 dB,", "orient": "bottom", "anchor": "middle", "frame": "group", "dx": -33, "offset": 12},
  "encoding": {
   "x": {"field": "f", "type": "quantitative", "scale": {"type": "log", "domain": [89.125, 11220], "nice": false}, "axis": {"title": "Frequency (Hz)", "values": [100,125,160,200,250,315,400,500,630,800,1000,1250,1600,2000,2500,3150,4000,5000,6300,8000,10000], "labelExpr": "format(datum.value, 'd')"}},
   "y": {"field": "v", "type": "quantitative", "scale": {"type": "log", "domain": [0.01, 180], "nice": false}, "axis": {"title": "MAX (deg)", "values": [0.01,0.02,0.03,0.04,0.05,0.06,0.07,0.08,0.09,0.1,0.2,0.3,0.4,0.5,0.6,0.7,0.8,0.9,1,2,3,4,5,6,7,8,9,10,20,30,40,50,60,70,80,90,100,180], "labelExpr": "indexof([0.01,0.1,1,10,100,180], datum.value) >= 0 ? format(datum.value, '~g') : ''"}}
  },
  "layer": [
   {"data": {"name": "bA"}, "mark": {"type": "line", "strokeWidth": 1.2}, "encoding": {"color": {"datum": "Order 1", "scale": {"domain": ["Order 1", "HO: 23", "HO: 12", "HO: 123"], "range": ["#000000", "#00ffff", "#edb120", "#d95319"]}, "legend": {"title": null, "labelExpr": "datum.label == 'HO: 23' ? 'HO:\u00a0\u00a0\u00a023' : datum.label"}}}},
   {"data": {"name": "bB"}, "mark": {"type": "line", "strokeWidth": 1.2}, "encoding": {"color": {"datum": "Order 1", "legend": null}}},
   {"data": {"name": "bC"}, "mark": {"type": "line", "strokeWidth": 1.2}, "encoding": {"color": {"datum": "Order 1", "legend": null}}},
   {"data": {"name": "bH23"}, "mark": {"type": "line", "strokeWidth": 1.3}, "encoding": {"color": {"datum": "HO: 23", "legend": null}}},
   {"data": {"name": "bH12"}, "mark": {"type": "line", "strokeWidth": 1.3}, "encoding": {"color": {"datum": "HO: 12", "legend": null}}},
   {"data": {"name": "bH123"}, "mark": {"type": "line", "strokeWidth": 1.3}, "encoding": {"color": {"datum": "HO: 123", "legend": null}}},
   {"data": {"name": "bT1"}, "mark": {"type": "line", "strokeWidth": 5, "strokeJoin": "round"}, "encoding": {"color": {"datum": "Order 1", "legend": null}}},
   {"data": {"name": "bT2"}, "mark": {"type": "line", "strokeWidth": 5, "strokeJoin": "round"}, "encoding": {"color": {"datum": "Order 1", "legend": null}}},
   {"data": {"name": "bT3"}, "mark": {"type": "line", "strokeWidth": 5, "strokeJoin": "round"}, "encoding": {"color": {"datum": "Order 1", "legend": null}}},
   {"data": {"name": "bTr"}, "mark": {"type": "line", "strokeWidth": 5, "strokeJoin": "round"}, "encoding": {"color": {"datum": "HO: 123", "legend": null}}},
   {"data": {"name": "vl"}, "mark": {"type": "rule", "strokeWidth": 2.5, "strokeDash": [11, 6]}, "encoding": {"y2": {"field": "v2"}, "color": {"field": "s", "type": "nominal", "legend": null}}}
  ]
 },
 {
  "width": 557, "height": 385,
  "title": {"text": "(c) STD, SNR = 30 dB,", "orient": "bottom", "anchor": "middle", "frame": "group", "dx": -33, "offset": 12},
  "encoding": {
   "x": {"field": "f", "type": "quantitative", "scale": {"type": "log", "domain": [89.125, 11220], "nice": false}, "axis": {"title": "Frequency (Hz)", "values": [100,125,160,200,250,315,400,500,630,800,1000,1250,1600,2000,2500,3150,4000,5000,6300,8000,10000], "labelExpr": "format(datum.value, 'd')"}},
   "y": {"field": "v", "type": "quantitative", "scale": {"type": "log", "domain": [0.01, 180], "nice": false}, "axis": {"title": "STD (deg)", "values": [0.01,0.02,0.03,0.04,0.05,0.06,0.07,0.08,0.09,0.1,0.2,0.3,0.4,0.5,0.6,0.7,0.8,0.9,1,2,3,4,5,6,7,8,9,10,20,30,40,50,60,70,80,90,100,180], "labelExpr": "indexof([0.01,0.1,1,10,100,180], datum.value) >= 0 ? format(datum.value, '~g') : ''"}}
  },
  "layer": [
   {"data": {"name": "cA"}, "mark": {"type": "line", "strokeWidth": 1.2}, "encoding": {"color": {"datum": "Order 1", "scale": {"domain": ["Order 1", "HO: 23", "HO: 12", "HO: 123"], "range": ["#000000", "#00ffff", "#edb120", "#d95319"]}, "legend": {"title": null, "labelExpr": "datum.label == 'HO: 23' ? 'HO:\u00a0\u00a0\u00a023' : datum.label"}}}},
   {"data": {"name": "cB"}, "mark": {"type": "line", "strokeWidth": 1.2}, "encoding": {"color": {"datum": "Order 1", "legend": null}}},
   {"data": {"name": "cC"}, "mark": {"type": "line", "strokeWidth": 1.2}, "encoding": {"color": {"datum": "Order 1", "legend": null}}},
   {"data": {"name": "cH23"}, "mark": {"type": "line", "strokeWidth": 1.3}, "encoding": {"color": {"datum": "HO: 23", "legend": null}}},
   {"data": {"name": "cH12"}, "mark": {"type": "line", "strokeWidth": 1.3}, "encoding": {"color": {"datum": "HO: 12", "legend": null}}},
   {"data": {"name": "cH123"}, "mark": {"type": "line", "strokeWidth": 1.3}, "encoding": {"color": {"datum": "HO: 123", "legend": null}}},
   {"data": {"name": "cT1"}, "mark": {"type": "line", "strokeWidth": 5.5, "strokeJoin": "round"}, "encoding": {"color": {"datum": "Order 1", "legend": null}}},
   {"data": {"name": "cT2"}, "mark": {"type": "line", "strokeWidth": 5.5, "strokeJoin": "round"}, "encoding": {"color": {"datum": "Order 1", "legend": null}}},
   {"data": {"name": "cT3"}, "mark": {"type": "line", "strokeWidth": 5.5, "strokeJoin": "round"}, "encoding": {"color": {"datum": "Order 1", "legend": null}}},
   {"data": {"name": "cTr"}, "mark": {"type": "line", "strokeWidth": 5.5, "strokeJoin": "round"}, "encoding": {"color": {"datum": "HO: 123", "legend": null}}},
   {"data": {"name": "cConn"}, "mark": {"type": "rule", "strokeWidth": 1, "color": "#000000"}, "encoding": {"y2": {"field": "v2"}}},
   {"data": {"name": "vl"}, "mark": {"type": "rule", "strokeWidth": 2.5, "strokeDash": [11, 6]}, "encoding": {"y2": {"field": "v2"}, "color": {"field": "s", "type": "nominal", "legend": null}}}
  ]
 },
 {
  "width": 557, "height": 385,
  "title": {"text": "(d) MAE, SNR = 30 dB.", "orient": "bottom", "anchor": "middle", "frame": "group", "dx": -33, "offset": 12},
  "encoding": {
   "x": {"field": "f", "type": "quantitative", "scale": {"type": "log", "domain": [89.125, 11220], "nice": false}, "axis": {"title": "Frequency (Hz)", "values": [100,125,160,200,250,315,400,500,630,800,1000,1250,1600,2000,2500,3150,4000,5000,6300,8000,10000], "labelExpr": "format(datum.value, 'd')"}},
   "y": {"field": "v", "type": "quantitative", "scale": {"type": "log", "domain": [0.01, 180], "nice": false}, "axis": {"title": "MAE (deg)", "values": [0.01,0.02,0.03,0.04,0.05,0.06,0.07,0.08,0.09,0.1,0.2,0.3,0.4,0.5,0.6,0.7,0.8,0.9,1,2,3,4,5,6,7,8,9,10,20,30,40,50,60,70,80,90,100,180], "labelExpr": "indexof([0.01,0.1,1,10,100,180], datum.value) >= 0 ? format(datum.value, '~g') : ''"}}
  },
  "layer": [
   {"data": {"name": "dA"}, "mark": {"type": "line", "strokeWidth": 1.2}, "encoding": {"color": {"datum": "Order 1", "scale": {"domain": ["Order 1", "HO: 23", "HO: 12", "HO: 123"], "range": ["#000000", "#00ffff", "#edb120", "#d95319"]}, "legend": {"title": null, "labelExpr": "datum.label == 'HO: 23' ? 'HO:\u00a0\u00a0\u00a023' : datum.label"}}}},
   {"data": {"name": "dB"}, "mark": {"type": "line", "strokeWidth": 1.2}, "encoding": {"color": {"datum": "Order 1", "legend": null}}},
   {"data": {"name": "dC"}, "mark": {"type": "line", "strokeWidth": 1.2}, "encoding": {"color": {"datum": "Order 1", "legend": null}}},
   {"data": {"name": "dH23"}, "mark": {"type": "line", "strokeWidth": 1.3}, "encoding": {"color": {"datum": "HO: 23", "legend": null}}},
   {"data": {"name": "dH12"}, "mark": {"type": "line", "strokeWidth": 1.3}, "encoding": {"color": {"datum": "HO: 12", "legend": null}}},
   {"data": {"name": "dH123"}, "mark": {"type": "line", "strokeWidth": 1.3}, "encoding": {"color": {"datum": "HO: 123", "legend": null}}},
   {"data": {"name": "dT1"}, "mark": {"type": "line", "strokeWidth": 5, "strokeJoin": "round"}, "encoding": {"color": {"datum": "Order 1", "legend": null}}},
   {"data": {"name": "dT2"}, "mark": {"type": "line", "strokeWidth": 5, "strokeJoin": "round"}, "encoding": {"color": {"datum": "Order 1", "legend": null}}},
   {"data": {"name": "dT3"}, "mark": {"type": "line", "strokeWidth": 5, "strokeJoin": "round"}, "encoding": {"color": {"datum": "Order 1", "legend": null}}},
   {"data": {"name": "dTr"}, "mark": {"type": "line", "strokeWidth": 5, "strokeJoin": "round"}, "encoding": {"color": {"datum": "HO: 123", "legend": null}}},
   {"data": {"name": "vl"}, "mark": {"type": "rule", "strokeWidth": 2.5, "strokeDash": [11, 6]}, "encoding": {"y2": {"field": "v2"}, "color": {"field": "s", "type": "nominal", "legend": null}}}
  ]
 }
]
}
